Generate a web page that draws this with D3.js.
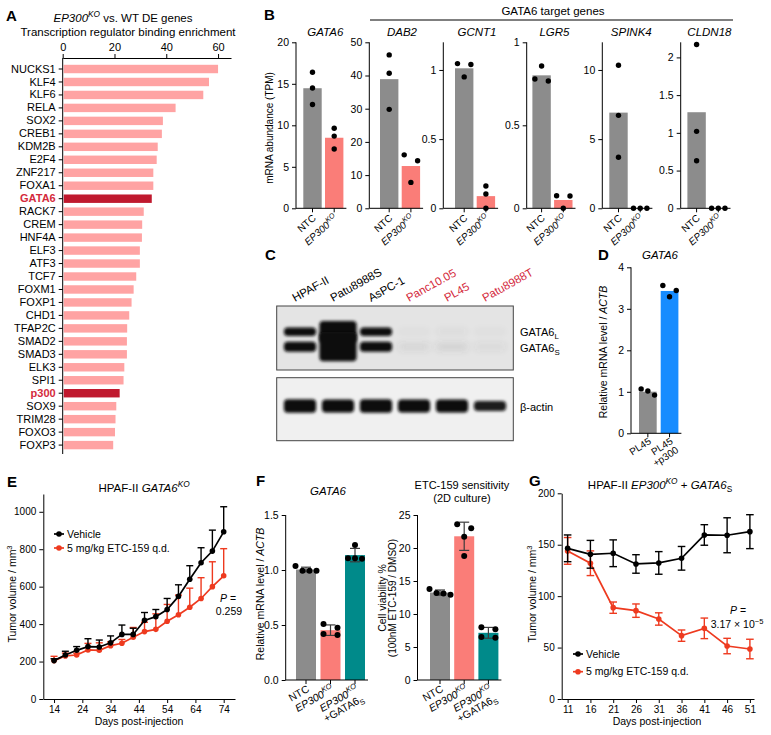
<!DOCTYPE html>
<html><head><meta charset="utf-8">
<script src="https://cdn.jsdelivr.net/npm/d3@7"></script>
<style>
body{margin:0;background:#fff;}
svg{font-family:"Liberation Sans",Arial,Helvetica,sans-serif;display:block;}
</style></head><body>
<script>
// ================= DATA =================
// Panel A
const tfNames = ["NUCKS1","KLF4","KLF6","RELA","SOX2","CREB1","KDM2B","E2F4","ZNF217","FOXA1","GATA6","RACK7","CREM","HNF4A","ELF3","ATF3","TCF7","FOXM1","FOXP1","CHD1","TFAP2C","SMAD2","SMAD3","ELK3","SPI1","p300","SOX9","TRIM28","FOXO3","FOXP3"];
const tfScores = [60,56.5,54.3,43.6,38.7,38.3,36.7,36.3,35,35,34.4,31.3,30.7,30.6,29.8,29.8,28.4,27.4,26.6,25.7,24.9,24.8,24.8,23.8,23.5,22,20.7,20.4,20.2,19.5];
const tfHighlight = ["GATA6","p300"];
const tfTicks = [0,20,40,60];

// Panel B
const bGenes = ["GATA6","DAB2","GCNT1","LGR5","SPINK4","CLDN18"];
const bGroups = ["NTC","EP300KO"];
const bPoints = [
  [[16.4,14.5,12.5],[9.65,8.7,7.15]],
  [[46.2,40.7,29.8],[16.1,14.3,7.8]],
  [[1.046,1.04,0.95],[0.161,0.103,0]],
  [[0.857,0.779,0.767],[0.076,0.074,0]],
  [[10.34,6.72,3.69],[0,0,0]],
  [[2.17,1.02,0.63],[0,0,0]]
];
const bMax = [20,50,1.2,1,12,2.2];
const bTicks = [[0,5,10,15,20],[0,10,20,30,40,50],[0,0.5,1],[0,0.5,1],[0,5,10],[0,0.5,1,1.5,2]];

// Panel C (western blot, relative band intensities)
const blotLanes = ["HPAF-II","Patu8988S","AsPC-1","Panc10.05","PL45","Patu8988T"];
const blotNegative = [false,false,false,true,true,true];
const blotGata6L = [0.95,2.4,0.95,0.02,0.03,0.02];
const blotGata6S = [1,2.9,1,0.07,0.09,0.05];
const blotActin = [1,0.95,1,0.95,0.95,0.75];

// Panel D
const dGroups = ["PL45","PL45+p300"];
const dPoints = [[1.07,0.92,1.02],[3.56,3.29,3.44]];
const dTicks = [0,1,2,3,4];

// Panel E
const eDays = [14,18,22,26,30,34,38,42,46,50,54,58,62,66,70,74];
const eVehicle = [205,235,260,280,278,300,345,345,420,440,478,548,640,728,790,893];
const eVehicleSem = [10,20,20,42,37,37,50,33,42,38,59,62,72,80,112,134];
const eEtc = [205,230,235,262,260,285,298,330,360,372,415,450,490,537,600,658];
const eEtcSem = [23,15,10,35,40,20,20,52,50,83,90,105,102,111,133,145];
const eYTicks = [0,200,400,600,800,1000];
const eXTicks = [14,24,34,44,54,64,74];

// Panel F
const fGroups = ["NTC","EP300KO","EP300KO+GATA6S"];
const fGata6Points = [[1.036,0.994,0.994,0.994],[0.509,0.476,0.418,0.409],[1.227,1.106,1.103,1.106]];
const fViabPoints = [[13.8,12.9,13.2,13.1],[23.0,23.6,21.7,18.8],[7.7,8.0,6.4,6.5]];
const fGata6Ticks = [0,0.5,1,1.5];
const fViabTicks = [0,5,10,15,20,25];

// Panel G
const gDays = [11,16,21,26,31,36,41,46,51];
const gVehicle = [146.5,140.7,141.7,131.3,132.3,136.8,159.5,159.2,162.7];
const gVehicleSem = [13,13.5,13,9,11,11.5,10,17,16.5];
const gEtc = [144,132,88.8,85.9,77.8,61.6,68.7,51.5,48.6];
const gEtcSem = [13,12,5.5,6.5,6,5.5,10,7.5,9.5];
const gYTicks = [0,50,100,150,200];
const gXTicks = [11,16,21,26,31,36,41,46,51];

// ================= STYLE =================
const C = {gray:"#8c8c8c", salmon:"#fa7d78", pink:"#ffa3a3", dark:"#c0192e",
  red:"#ee3a1f", blue:"#178cff", teal:"#008a8a", label:"#d42a3c"};

const svg = d3.select("body").append("svg").attr("width",771).attr("height",735);
const defs = svg.append("defs");
defs.append("filter").attr("id","blur").attr("x","-30%").attr("y","-60%").attr("width","160%").attr("height","220%")
  .append("feGaussianBlur").attr("stdDeviation",1.7);
defs.append("filter").attr("id","blur2").attr("x","-30%").attr("y","-100%").attr("width","160%").attr("height","300%")
  .append("feGaussianBlur").attr("stdDeviation",3);

function rich(sel, parts, size){
  let shift = 0;
  parts.forEach(p=>{
    const ts = sel.append("tspan").text(p.t);
    const target = p.sup ? -0.4*size : (p.sub ? 0.28*size : 0);
    if (target - shift !== 0) ts.attr("dy", target - shift);
    shift = target;
    if (p.sup || p.sub) ts.attr("font-size", size*0.72);
    if (p.i) ts.attr("font-style","italic");
    if (p.b) ts.attr("font-weight","bold");
  });
}
function txt(x,y,parts,opt={}){
  const size = opt.size||11;
  const t = svg.append("text").attr("x",x).attr("y",y).attr("font-size",size)
    .attr("text-anchor",opt.anchor||"middle").attr("fill",opt.fill||"#000");
  if (opt.rotate!==undefined) t.attr("transform",`rotate(${opt.rotate},${x},${y})`);
  if (opt.weight) t.attr("font-weight",opt.weight);
  rich(t, typeof parts==="string"?[{t:parts}]:parts, size);
  return t;
}
function styleAxis(g,size){
  g.attr("font-family",null).attr("font-size",size||10.5);
  g.selectAll("path,line").attr("stroke","#000").attr("stroke-width",1);
  g.selectAll("text").attr("fill","#000");
  return g;
}
function rotLabel(x,y,lines,angle,size){
  const g = svg.append("g").attr("transform",`translate(${x},${y}) rotate(${angle})`);
  lines.forEach((parts,k)=>{
    const t = g.append("text").attr("x",0).attr("y",k*size*1.05).attr("text-anchor","end").attr("font-size",size);
    rich(t, parts, size);
  });
}
// cluster-based symmetric jitter, similar to scatter dot plots
function jitter(vals, y, s, d){
  const idx = d3.range(vals.length).sort((a,b)=>vals[b]-vals[a]);
  const off = new Array(vals.length).fill(0);
  const clusters = []; let cur = [idx[0]];
  for (let k=1;k<idx.length;k++){
    if (Math.abs(y(vals[idx[k]])-y(vals[idx[k-1]])) < d) cur.push(idx[k]);
    else { clusters.push(cur); cur=[idx[k]]; }
  }
  clusters.push(cur);
  const slots = {1:[0],2:[-1,1],3:[-1,0,1],4:[-1.5,-0.5,0.5,1.5]};
  clusters.forEach(c=>{
    const sl = slots[c.length] || c.map((_,i)=>i-(c.length-1)/2);
    c.forEach((id,i)=>off[id]=sl[i]*s);
  });
  return off;
}
function barDot(o){
  const y = d3.scaleLinear().domain([0,o.max]).range([o.y0,o.y1]);
  const n = o.groups.length;
  const span = o.step*(n-1)+o.bw;
  const x = d3.scaleBand().domain(o.groups).range([o.x0+o.off, o.x0+o.off+span])
    .paddingInner((o.step-o.bw)/o.step).paddingOuter(0);
  const means = o.points.map(p=>d3.mean(p));
  svg.append("g").selectAll("rect").data(o.groups).join("rect")
    .attr("x",d=>x(d)).attr("y",(d,i)=>y(means[i])).attr("width",x.bandwidth())
    .attr("height",(d,i)=>y(0)-y(means[i])).attr("fill",(d,i)=>o.colors[i]);
  if (o.sd){
    const ge = svg.append("g").attr("stroke","#3c3c3c").attr("stroke-width",1.2);
    o.points.forEach((p,i)=>{
      const m = means[i], s = d3.deviation(p), cx = x(o.groups[i])+x.bandwidth()/2;
      ge.append("line").attr("x1",cx).attr("x2",cx).attr("y1",y(m+s)).attr("y2",y(m-s));
      [m+s,m-s].forEach(v=>ge.append("line").attr("x1",cx-5).attr("x2",cx+5).attr("y1",y(v)).attr("y2",y(v)));
    });
  }
  o.points.forEach((pts,i)=>{
    const offs = jitter(pts,y,o.s||6.7,6);
    const cx = x(o.groups[i])+x.bandwidth()/2;
    svg.append("g").selectAll("circle").data(pts).join("circle")
      .attr("cx",(v,j)=>cx+offs[j]).attr("cy",v=>y(v)).attr("r",o.r||2.7).attr("fill","#000");
  });
  const ga = svg.append("g").attr("transform",`translate(${o.x0},0)`)
    .call(d3.axisLeft(y).tickValues(o.ticks).tickSize(4).tickSizeOuter(0).tickFormat(o.fmt||(d=>d)));
  styleAxis(ga,o.fs||10.5);
  ga.select(".domain").attr("d",`M0,${o.y0}V${o.y1}`);
  const gx = svg.append("g").attr("transform",`translate(0,${o.y0})`)
    .call(d3.axisBottom(x).tickSize(4).tickFormat(""));
  styleAxis(gx);
  gx.select(".domain").attr("d",`M${o.x0},0H${o.x0+o.off+span+3}`);
  return {x,y};
}
function lineSeries(days,mean,err,color,xs,ys,both,cap){
  const g = svg.append("g");
  const ge = g.append("g").attr("stroke",color).attr("stroke-width",1.4);
  days.forEach((d,i)=>{
    const x = xs(d), top = ys(mean[i]+err[i]), bot = both ? ys(mean[i]-err[i]) : ys(mean[i]);
    ge.append("line").attr("x1",x).attr("x2",x).attr("y1",top).attr("y2",bot);
    ge.append("line").attr("x1",x-cap).attr("x2",x+cap).attr("y1",top).attr("y2",top);
    if (both) ge.append("line").attr("x1",x-cap).attr("x2",x+cap).attr("y1",bot).attr("y2",bot);
  });
  g.append("path").datum(d3.range(days.length))
    .attr("d",d3.line().x(i=>xs(days[i])).y(i=>ys(mean[i])))
    .attr("fill","none").attr("stroke",color).attr("stroke-width",1.7);
  g.append("g").selectAll("circle").data(days).join("circle")
    .attr("cx",d=>xs(d)).attr("cy",(d,i)=>ys(mean[i])).attr("r",2.8).attr("fill",color);
}
function legendItem(x,y,color,label){
  svg.append("line").attr("x1",x).attr("x2",x+10).attr("y1",y).attr("y2",y).attr("stroke",color).attr("stroke-width",1.7);
  svg.append("circle").attr("cx",x+5).attr("cy",y).attr("r",2.8).attr("fill",color);
  txt(x+13,y+3.6,label,{size:10.5,anchor:"start"});
}
const koParts = [{t:"EP300",i:true},{t:"KO",i:true,sup:true}];

// ================= PANEL A =================
txt(6,21,"A",{size:15,weight:"bold",anchor:"start"});
txt(123,21.5,[{t:"EP300",i:true},{t:"KO",i:true,sup:true},{t:" vs. WT DE genes"}],{size:11.5});
txt(128,35.5,"Transcription regulator binding enrichment",{size:11.5});
const ax = d3.scaleLinear().domain([0,65]).range([62.7,231]);
const ay = d3.scaleBand().domain(tfNames).range([62.2,451.9]).paddingInner(0.35).paddingOuter(0.2);
svg.append("g").selectAll("rect").data(tfNames).join("rect")
  .attr("x",ax(0)+1).attr("y",d=>ay(d)).attr("height",ay.bandwidth())
  .attr("width",(d,i)=>ax(tfScores[i])-ax(0)-1)
  .attr("fill",d=>tfHighlight.includes(d)?C.dark:C.pink);
const gAt = svg.append("g").attr("transform","translate(0,58)")
  .call(d3.axisTop(ax).tickValues(tfTicks).tickSize(4).tickSizeOuter(0));
styleAxis(gAt,11);
const gAl = svg.append("g").attr("transform",`translate(${ax(0)},0)`)
  .call(d3.axisLeft(ay).tickSize(4).tickSizeOuter(0));
styleAxis(gAl,11);
gAl.select(".domain").attr("d","M0,58V454");
gAl.selectAll(".tick text").attr("fill",d=>tfHighlight.includes(d)?C.label:"#000")
  .attr("font-weight",d=>tfHighlight.includes(d)?"bold":null);

// ================= PANEL B =================
txt(264,20,"B",{size:15,weight:"bold",anchor:"start"});
txt(553,15,"GATA6 target genes",{size:11.5});
svg.append("line").attr("x1",370).attr("x2",733).attr("y1",20).attr("y2",20).attr("stroke","#000");
const bAxisX = [296,369.3,443.3,526.7,602.3,680.7];
const bOff = [7.3,10.7,11.7,5.7,7,6.7];
bGenes.forEach((gene,k)=>{
  const r = barDot({x0:bAxisX[k],off:bOff[k],y0:208.3,y1:42.3,max:bMax[k],ticks:bTicks[k],
    groups:bGroups,points:bPoints[k],colors:[C.gray,C.salmon],step:21.7,bw:18.4});
  txt(bAxisX[k]+bOff[k]+22,36,[{t:gene,i:true}],{size:11.5});
  const c0 = r.x("NTC")+r.x.bandwidth()/2, c1 = r.x("EP300KO")+r.x.bandwidth()/2;
  rotLabel(c0+4,219,[[{t:"NTC"}]],-42,10);
  rotLabel(c1+4,219,[koParts],-42,10);
});
txt(273,128,"mRNA abundance (TPM)",{size:10,rotate:-90});

// ================= PANEL C =================
txt(265,260,"C",{size:15,weight:"bold",anchor:"start"});
const blotX = d3.scaleBand().domain(blotLanes).range([281,509]).paddingInner(0.1).paddingOuter(0.05);
const box1 = {x:276.7,y:306,w:236.6,h:64}, box2 = {x:276.7,y:377.7,w:236.6,h:63};
[[box1,"#e4e4e4","clip1"],[box2,"#f0f0f0","clip2"]].forEach(([b,f,id])=>{
  defs.append("clipPath").attr("id",id).append("rect").attr("x",b.x).attr("y",b.y).attr("width",b.w).attr("height",b.h);
  svg.append("rect").attr("x",b.x).attr("y",b.y).attr("width",b.w).attr("height",b.h).attr("fill",f);
});
function bands(vals,cy,h,clip){
  const g = svg.append("g").attr("clip-path",`url(#${clip})`);
  g.append("g").attr("filter","url(#blur)")
    .selectAll("rect").data(blotLanes).join("rect")
    .attr("x",(d,i)=>blotX(d)+1-(vals[i]>1.5?2.5:0))
    .attr("width",(d,i)=>blotX.bandwidth()-2+(vals[i]>1.5?5:0))
    .attr("y",(d,i)=>cy-h*Math.max(vals[i],0.7)/2)
    .attr("height",(d,i)=>h*Math.max(vals[i],0.7))
    .attr("rx",4).attr("fill",(d,i)=>vals[i]<0.5?"#555":"#0c0c0c")
    .attr("opacity",(d,i)=>vals[i]<0.5?vals[i]*1.6:Math.min(1,vals[i]*1.25))
    .attr("filter",(d,i)=>vals[i]<0.5?"url(#blur2)":null);
}
bands(blotGata6L,331.7,9,"clip1");
bands(blotGata6S,346.7,10,"clip1");
bands(blotActin,406,13.5,"clip2");
[box1,box2].forEach(b=>svg.append("rect").attr("x",b.x).attr("y",b.y).attr("width",b.w).attr("height",b.h)
  .attr("fill","none").attr("stroke","#444").attr("stroke-width",1));
blotLanes.forEach((l,i)=>{
  txt(blotX(l)+12,302,l,{size:11.5,anchor:"start",rotate:-29,fill:blotNegative[i]?C.label:"#000"});
});
txt(520,336,[{t:"GATA6"},{t:"L",sub:true}],{size:11,anchor:"start"});
txt(520,352,[{t:"GATA6"},{t:"S",sub:true}],{size:11,anchor:"start"});
txt(520,411,"β-actin",{size:11,anchor:"start"});

// ================= PANEL D =================
txt(598,260,"D",{size:15,weight:"bold",anchor:"start"});
txt(660,259,[{t:"GATA6",i:true}],{size:11.5});
const dr = barDot({x0:631,off:8,y0:433.3,y1:267.3,max:4,ticks:dTicks,groups:dGroups,points:dPoints,
  colors:[C.gray,C.blue],step:21.7,bw:17.7});
rotLabel(dr.x("PL45")+dr.x.bandwidth()/2+4,443,[[{t:"PL45"}]],-33,10);
rotLabel(dr.x("PL45+p300")+dr.x.bandwidth()/2+4,443,[[{t:"PL45"}],[{t:"+p300"}]],-33,10);
txt(607,352,[{t:"Relative mRNA level / "},{t:"ACTB",i:true}],{size:10.5,rotate:-90});

// ================= PANEL E =================
txt(7,487,"E",{size:15,weight:"bold",anchor:"start"});
txt(144,492,[{t:"HPAF-II "},{t:"GATA6",i:true},{t:"KO",i:true,sup:true}],{size:11.5});
const ex = d3.scaleLinear().domain([10.2,78]).range([43.3,235]);
const ey = d3.scaleLinear().domain([0,1095]).range([699,494]);
lineSeries(eDays,eEtc,eEtcSem,C.red,ex,ey,false,3.5);
lineSeries(eDays,eVehicle,eVehicleSem,"#000",ex,ey,false,3.5);
const gEy = svg.append("g").attr("transform","translate(43.3,0)").call(d3.axisLeft(ey).tickValues(eYTicks).tickSize(4).tickSizeOuter(0).tickFormat(d3.format("d")));
styleAxis(gEy,10);
const gEx = svg.append("g").attr("transform","translate(0,699)").call(d3.axisBottom(ex).tickValues(eXTicks).tickSize(4).tickSizeOuter(0));
styleAxis(gEx,10);
legendItem(54,534,"#000","Vehicle");
legendItem(54,548,C.red,"5 mg/kg ETC-159 q.d.");
txt(228,602,[{t:"P",i:true},{t:" ="}],{size:10.5});
txt(229,615,"0.259",{size:10.5});
txt(139,725,"Days post-injection",{size:10.5});
txt(16,594,[{t:"Tumor volume / mm"},{t:"3",sup:true}],{size:10.5,rotate:-90});

// ================= PANEL F =================
txt(256,486,"F",{size:15,weight:"bold",anchor:"start"});
txt(328,495,[{t:"GATA6",i:true}],{size:11.5});
const fr1 = barDot({x0:285.7,off:10.3,y0:680,y1:515,max:1.5,ticks:fGata6Ticks,fmt:d3.format(".1f"),
  groups:fGroups,points:fGata6Points,colors:[C.gray,C.salmon,C.teal],step:24.5,bw:20,sd:true,r:3,s:7,fs:10.5});
txt(264,594,[{t:"Relative mRNA level / "},{t:"ACTB",i:true}],{size:10.5,rotate:-90});
txt(462,489,"ETC-159 sensitivity",{size:11});
txt(462,502,"(2D culture)",{size:11});
const fr2 = barDot({x0:417.5,off:12.5,y0:680,y1:515,max:25,ticks:fViabTicks,
  groups:fGroups,points:fViabPoints,colors:[C.gray,C.salmon,C.teal],step:24.2,bw:20,sd:true,r:3,s:7,fs:10.5});
txt(385.5,598,"Cell viability %",{size:10.5,rotate:-90});
txt(395.5,598,"(100nM ETC-159 / DMSO)",{size:10,rotate:-90});
[fr1,fr2].forEach(r=>{
  const c = g=>r.x(g)+r.x.bandwidth()/2+4;
  rotLabel(c("NTC"),691,[[{t:"NTC"}]],-30,10.5);
  rotLabel(c("EP300KO"),691,[koParts],-30,10.5);
  rotLabel(c("EP300KO+GATA6S"),691,[koParts,[{t:"+GATA6"},{t:"S",sub:true}]],-30,10.5);
});

// ================= PANEL G =================
txt(529,486,"G",{size:15,weight:"bold",anchor:"start"});
txt(660,489,[{t:"HPAF-II "},{t:"EP300",i:true},{t:"KO",i:true,sup:true},{t:" + "},{t:"GATA6",i:true},{t:"S",sub:true}],{size:11.5});
const gx = d3.scaleLinear().domain([9.7,51.9]).range([561.7,754]);
const gy = d3.scaleLinear().domain([0,200]).range([699,493.3]);
lineSeries(gDays,gEtc,gEtcSem,C.red,gx,gy,true,3.8);
lineSeries(gDays,gVehicle,gVehicleSem,"#000",gx,gy,true,3.8);
const gGy = svg.append("g").attr("transform","translate(561.7,0)").call(d3.axisLeft(gy).tickValues(gYTicks).tickSize(4).tickSizeOuter(0));
styleAxis(gGy,10);
const gGx = svg.append("g").attr("transform","translate(0,699)").call(d3.axisBottom(gx).tickValues(gXTicks).tickSize(4).tickSizeOuter(0));
styleAxis(gGx,10);
legendItem(573,654,"#000","Vehicle");
legendItem(573,671.7,C.red,"5 mg/kg ETC-159 q.d.");
txt(738,614,[{t:"P",i:true},{t:" ="}],{size:10.5});
txt(737,628,[{t:"3.17 × 10"},{t:"−5",sup:true}],{size:10.5});
txt(657,725,"Days post-injection",{size:10.5});
txt(536,594,[{t:"Tumor volume / mm"},{t:"3",sup:true}],{size:10.5,rotate:-90});
</script></body></html>
